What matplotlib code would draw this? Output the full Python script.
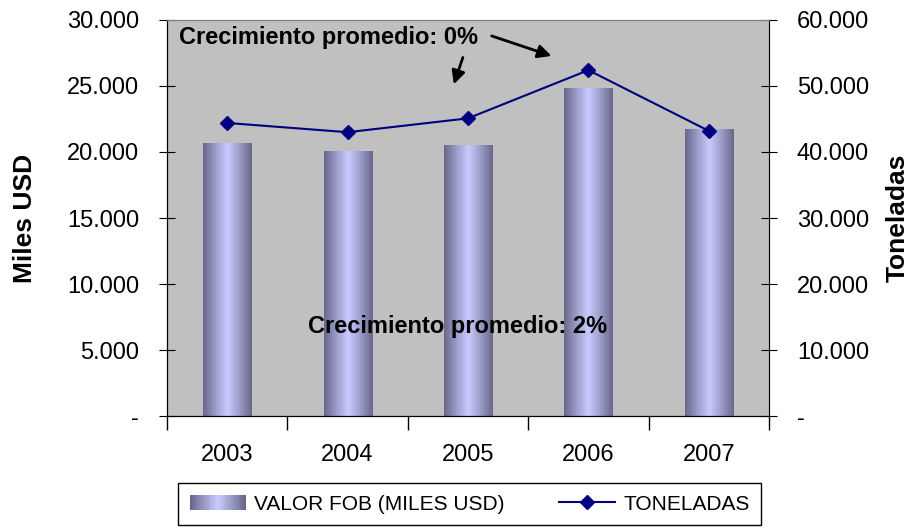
import numpy as np
import matplotlib
matplotlib.use("Agg")
import matplotlib.pyplot as plt
from matplotlib.ticker import FuncFormatter, FixedLocator
from matplotlib.colors import LinearSegmentedColormap
from matplotlib.patches import Rectangle
from matplotlib.lines import Line2D
from matplotlib.legend_handler import HandlerPatch

plt.rcParams['font.family'] = ['Liberation Sans', 'DejaVu Sans']

years = ['2003', '2004', '2005', '2006', '2007']
valor_fob = [20700, 20100, 20500, 24850, 21750]
toneladas = [44400, 43000, 45100, 52400, 43200]

grad = LinearSegmentedColormap.from_list('bar', ['#68688a', '#9a9cc8', '#c8cbff', '#9a9cc8', '#68688a'])


def fmt(v, pos):
    if v == 0:
        return '-'
    return f'{v:,.0f}'.replace(',', '.')


fig = plt.figure(figsize=(9.16, 5.29), dpi=100)
ax = fig.add_axes([0.1823, 0.2136, 0.6572, 0.7486])
ax.set_facecolor('#c0c0c0')

x = np.arange(len(years))
bars = ax.bar(x, valor_fob, width=0.4, color='none', edgecolor='none', zorder=2)
g = np.linspace(0, 1, 256).reshape(1, -1)
for b in bars:
    x0, y0 = b.get_x(), b.get_y()
    im = ax.imshow(g, cmap=grad, aspect='auto', zorder=2,
                   extent=[x0, x0 + b.get_width(), y0, y0 + b.get_height()])
    im.set_clip_path(b)

ax.set_xlim(-0.5, len(years) - 0.5)
ax.set_ylim(0, 30000)
ax.yaxis.set_major_locator(FixedLocator(np.arange(0, 30001, 5000)))
ax.yaxis.set_major_formatter(FuncFormatter(fmt))
ax.set_xticks(x)
ax.set_xticklabels(years)
ax.tick_params(axis='x', length=0, pad=20, labelsize=17)
ax.set_xticks(np.arange(-0.5, len(years), 1), minor=True)
ax.tick_params(axis='x', which='minor', length=10, direction='out', width=1)
ax.tick_params(axis='y', direction='inout', length=12, labelsize=17, pad=14)
ax.set_ylabel('Miles USD', fontsize=19, fontweight='bold', labelpad=22)
for s in ['top', 'right']:
    ax.spines[s].set_color('#808080')

ax2 = ax.twinx()
ax2.plot(x, toneladas, color='#000080', lw=1.5, marker='D', ms=7, zorder=3)
ax2.set_ylim(0, 60000)
ax2.yaxis.set_major_locator(FixedLocator(np.arange(0, 60001, 10000)))
ax2.yaxis.set_major_formatter(FuncFormatter(fmt))
ax2.tick_params(axis='y', direction='inout', length=12, labelsize=17, pad=14)
ax2.set_ylabel('Toneladas', fontsize=19, fontweight='bold', labelpad=12)
ax2.spines['top'].set_color('#808080')

ax.text(0.02, 0.955, 'Crecimiento promedio: 0%', transform=ax.transAxes,
        fontsize=17, fontweight='bold', va='center', ha='left', zorder=5)
ax.text(0.235, 0.227, 'Crecimiento promedio: 2%', transform=ax.transAxes,
        fontsize=17, fontweight='bold', va='center', ha='left', zorder=5)
ax.annotate('', xy=(0.475, 0.831), xytext=(0.493, 0.912), xycoords='axes fraction',
            arrowprops=dict(arrowstyle='-|>', color='black', lw=2, mutation_scale=20))
ax.annotate('', xy=(0.643, 0.907), xytext=(0.535, 0.962), xycoords='axes fraction',
            arrowprops=dict(arrowstyle='-|>', color='black', lw=2, mutation_scale=20))


class GradHandler(HandlerPatch):
    def create_artists(self, legend, orig_handle, xdescent, ydescent, width, height, fontsize, trans):
        arts = []
        n = 30
        cols = grad(np.linspace(0, 1, n))
        for i in range(n):
            r = Rectangle((-xdescent + width * i / n, -ydescent), width / n + 0.3, height,
                          facecolor=cols[i], edgecolor='none', transform=trans)
            arts.append(r)
        return arts


bar_handle = Rectangle((0, 0), 1, 1)
line_handle = Line2D([], [], color='#000080', lw=1.5, marker='D', ms=7)
fig.legend([bar_handle, line_handle], ['VALOR FOB (MILES USD)', 'TONELADAS'],
           handler_map={Rectangle: GradHandler()},
           loc='center', bbox_to_anchor=(0.513, 0.047), ncol=2, fontsize=15,
           frameon=True, fancybox=False, edgecolor='black', framealpha=1,
           columnspacing=2.6, handlelength=2.7, handletextpad=0.4,
           borderpad=0.55, borderaxespad=0)

fig.savefig('out.png', dpi=100)
